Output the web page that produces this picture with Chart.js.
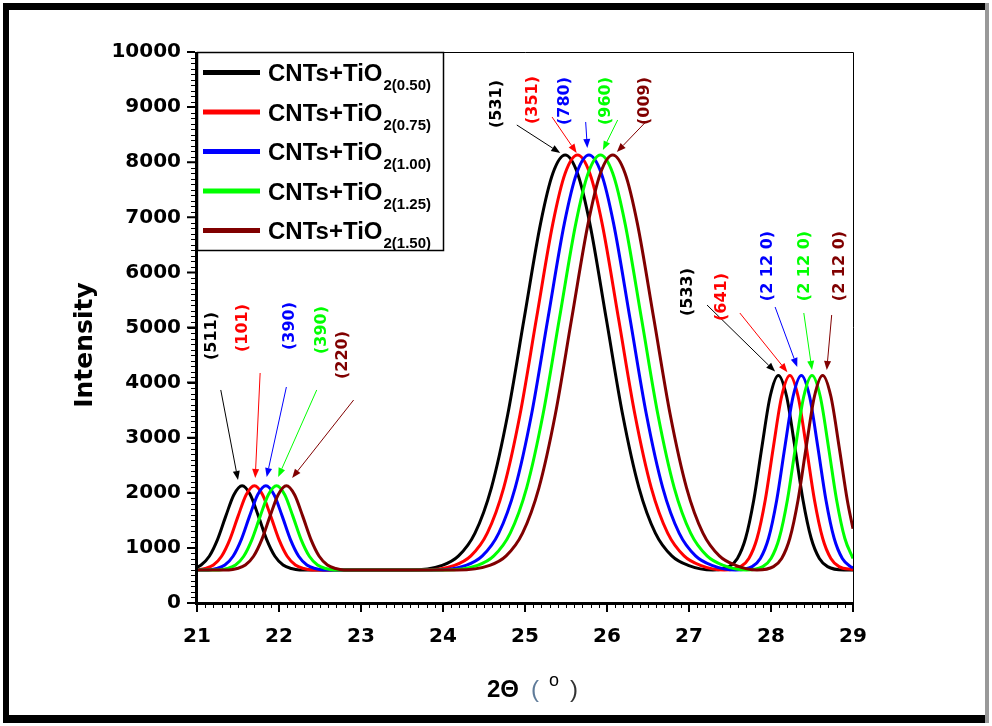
<!DOCTYPE html>
<html>
<head>
<meta charset="utf-8">
<script src="https://cdn.jsdelivr.net/npm/chart.js@4.4.1/dist/chart.umd.min.js"></script>
<style>
  html, body { margin: 0; padding: 0; background: #fff; }
  canvas { display: block; }
</style>
</head>
<body>
<canvas id="xrd" width="992" height="726"></canvas>
<script>
// XRD patterns of CNTs+TiO2 for five TiO2 loadings
var loadings = ['0.50', '0.75', '1.00', '1.25', '1.50'];
var colors = ['#000000', '#ff0000', '#0000ff', '#00ff00', '#800000'];

var xTicks = [21, 22, 23, 24, 25, 26, 27, 28, 29];
var yTicks = [0, 1000, 2000, 3000, 4000, 5000, 6000, 7000, 8000, 9000, 10000];

var angle050 = [21.00, 21.05, 21.15, 21.25, 21.35, 21.45, 21.55, 21.65, 21.75, 21.85, 21.95, 22.05, 22.15, 22.25,
  23.59, 23.99, 24.19, 24.39, 24.59, 24.79, 24.99, 25.19, 25.34, 25.49, 25.64, 25.79, 25.99, 26.19, 26.39, 26.59, 26.79, 26.99,
  27.29, 27.49, 27.59, 27.69, 27.79, 27.89, 27.99, 28.09, 28.19, 28.29, 28.39, 28.49, 28.59, 28.69, 28.89, 29.00];
var count050 = [650, 690, 849, 1151, 1572, 1966, 2130, 1966, 1572, 1151, 849, 690, 626, 600,
  600, 684, 856, 1269, 2091, 3426, 5167, 6890, 7799, 8130, 7799, 6890, 5167, 3426, 2091, 1269, 856, 684,
  600, 660, 808, 1175, 1871, 2842, 3752, 4130, 3752, 2842, 1871, 1175, 808, 660, 600, 600];

var angle075 = [21.00, 21.10, 21.20, 21.30, 21.40, 21.50, 21.60, 21.70, 21.80, 21.90, 22.00, 22.10, 22.20, 22.30, 22.40,
  23.74, 24.14, 24.34, 24.54, 24.74, 24.94, 25.14, 25.34, 25.49, 25.64, 25.79, 25.94, 26.14, 26.34, 26.54, 26.74, 26.94, 27.14,
  27.43, 27.63, 27.73, 27.83, 27.93, 28.03, 28.13, 28.23, 28.33, 28.43, 28.53, 28.63, 28.73, 28.83, 29.00];
var count075 = [600, 626, 690, 849, 1151, 1572, 1966, 2130, 1966, 1572, 1151, 849, 690, 626, 600,
  600, 684, 856, 1269, 2091, 3426, 5167, 6890, 7799, 8130, 7799, 6890, 5167, 3426, 2091, 1269, 856, 684,
  600, 660, 808, 1175, 1871, 2842, 3752, 4130, 3752, 2842, 1871, 1175, 808, 660, 604];

var angle100 = [21.00, 21.14, 21.24, 21.34, 21.44, 21.54, 21.64, 21.74, 21.84, 21.94, 22.04, 22.14, 22.24, 22.34, 22.44, 22.54,
  23.88, 24.28, 24.48, 24.68, 24.88, 25.08, 25.28, 25.48, 25.63, 25.78, 25.93, 26.08, 26.28, 26.48, 26.68, 26.88, 27.08, 27.28,
  27.57, 27.77, 27.87, 27.97, 28.07, 28.17, 28.27, 28.37, 28.47, 28.57, 28.67, 28.77, 28.87, 28.97, 29.00];
var count100 = [600, 600, 626, 690, 849, 1151, 1572, 1966, 2130, 1966, 1572, 1151, 849, 690, 626, 600,
  600, 684, 856, 1269, 2091, 3426, 5167, 6890, 7799, 8130, 7799, 6890, 5167, 3426, 2091, 1269, 856, 684,
  600, 660, 808, 1175, 1871, 2842, 3752, 4130, 3752, 2842, 1871, 1175, 808, 660, 639];

var angle125 = [21.00, 21.27, 21.37, 21.47, 21.57, 21.67, 21.77, 21.87, 21.97, 22.07, 22.17, 22.27, 22.37, 22.47, 22.57, 22.67,
  24.02, 24.42, 24.62, 24.82, 25.02, 25.22, 25.42, 25.62, 25.77, 25.92, 26.07, 26.22, 26.42, 26.62, 26.82, 27.02, 27.22, 27.42,
  27.70, 27.90, 28.00, 28.10, 28.20, 28.30, 28.40, 28.50, 28.60, 28.70, 28.80, 28.90, 29.00];
var count125 = [600, 600, 626, 690, 849, 1151, 1572, 1966, 2130, 1966, 1572, 1151, 849, 690, 626, 600,
  600, 684, 856, 1269, 2091, 3426, 5167, 6890, 7799, 8130, 7799, 6890, 5167, 3426, 2091, 1269, 856, 684,
  600, 660, 808, 1175, 1871, 2842, 3752, 4130, 3752, 2842, 1871, 1175, 808];

var angle150 = [21.00, 21.39, 21.49, 21.59, 21.69, 21.79, 21.89, 21.99, 22.09, 22.19, 22.29, 22.39, 22.49, 22.59, 22.69, 22.79,
  24.17, 24.57, 24.77, 24.97, 25.17, 25.37, 25.57, 25.77, 25.92, 26.07, 26.22, 26.37, 26.57, 26.77, 26.97, 27.17, 27.37, 27.57,
  27.83, 28.03, 28.13, 28.23, 28.33, 28.43, 28.53, 28.63, 28.73, 28.83, 28.93, 29.00];
var count150 = [600, 600, 626, 690, 849, 1151, 1572, 1966, 2130, 1966, 1572, 1151, 849, 690, 626, 600,
  600, 684, 856, 1269, 2091, 3426, 5167, 6890, 7799, 8130, 7799, 6890, 5167, 3426, 2091, 1269, 856, 684,
  600, 660, 808, 1175, 1871, 2842, 3752, 4130, 3752, 2842, 1871, 1348];

var angles = [angle050, angle075, angle100, angle125, angle150];
var counts = [count050, count075, count100, count125, count150];

// Miller indices for each peak group, one per sample
var hklLabels = [
  ['(511)', '(101)', '(390)', '(390)', '(220)'],
  ['(531)', '(351)', '(780)', '(960)', '(009)'],
  ['(533)', '(641)', '(2 12 0)', '(2 12 0)', '(2 12 0)']
];

// arrow tail, arrow tip and label centre, in axis units
var arrowLayout = [
  [[[21.29, 3866], [21.50, 2232], [21.18, 4846]],
   [[21.77, 4174], [21.71, 2269], [21.56, 4991]],
   [[22.09, 3920], [21.85, 2287], [22.13, 5027]],
   [[22.46, 3866], [21.99, 2287], [22.52, 4955]],
   [[22.91, 3684], [22.16, 2269], [22.78, 4501]]],
  [[[24.90, 8675], [25.43, 8167], [24.66, 9056]],
   [[25.33, 8820], [25.63, 8167], [25.10, 9129]],
   [[25.74, 8730], [25.76, 8258], [25.49, 9111]],
   [[26.13, 8766], [25.95, 8221], [25.98, 9111]],
   [[26.46, 8711], [26.12, 8185], [26.46, 9111]]],
  [[[27.22, 5408], [28.05, 4200], [26.99, 5644]],
   [[27.62, 5263], [28.20, 4190], [27.40, 5554]],
   [[28.05, 5372], [28.32, 4283], [27.96, 6116]],
   [[28.40, 5263], [28.50, 4229], [28.41, 6116]],
   [[28.74, 5227], [28.68, 4229], [28.84, 6116]]]
];

var datasets = loadings.map(function(name, i) {
  return {
    label: 'CNTs+TiO2(' + name + ')',
    data: angles[i].map(function(a, j) { return { x: a, y: counts[i][j] }; }),
    borderColor: colors[i],
    backgroundColor: colors[i],
    borderWidth: 3,
    pointRadius: 0,
    fill: false,
    cubicInterpolationMode: 'monotone',
    order: loadings.length - i
  };
});

function drawArrow(ctx, x1, y1, x2, y2, color) {
  var ang = Math.atan2(y2 - y1, x2 - x1);
  var head = 9, half = 3.5;
  var bx = x2 - head * Math.cos(ang), by = y2 - head * Math.sin(ang);
  ctx.strokeStyle = color;
  ctx.lineWidth = 1;
  ctx.beginPath();
  ctx.moveTo(x1, y1);
  ctx.lineTo(bx, by);
  ctx.stroke();
  ctx.fillStyle = color;
  ctx.beginPath();
  ctx.moveTo(x2, y2);
  ctx.lineTo(bx + half * Math.sin(ang), by - half * Math.cos(ang));
  ctx.lineTo(bx - half * Math.sin(ang), by + half * Math.cos(ang));
  ctx.closePath();
  ctx.fill();
}

var decorations = {
  id: 'decorations',
  afterDraw: function(chart) {
    var ctx = chart.ctx;
    var xs = chart.scales.x, ys = chart.scales.y;
    var a = chart.chartArea;
    var k, v, p;
    ctx.save();

    // frame: thin top/right, heavy left/bottom axes
    ctx.strokeStyle = '#000';
    ctx.lineWidth = 1;
    ctx.beginPath();
    ctx.moveTo(a.left, a.top + 0.5);
    ctx.lineTo(a.right + 0.5, a.top + 0.5);
    ctx.lineTo(a.right + 0.5, a.bottom);
    ctx.stroke();
    ctx.fillStyle = '#000';
    ctx.fillRect(a.left - 2, a.top, 3, a.bottom - a.top + 2);
    ctx.fillRect(a.left - 2, a.bottom - 1, a.right - a.left + 3, 3);

    // minor and major ticks on the axes
    ctx.lineWidth = 1;
    ctx.beginPath();
    for (k = 0; k <= 80; k++) {
      v = xTicks[0] + k / 10;
      p = Math.round(xs.getPixelForValue(v)) + 0.5;
      ctx.moveTo(p, a.bottom + 1);
      ctx.lineTo(p, a.bottom + (k % 10 === 0 ? 8 : 5));
    }
    for (k = 0; k <= 100; k++) {
      v = k * 100;
      p = Math.round(ys.getPixelForValue(v)) + 0.5;
      ctx.moveTo(a.left - 2, p);
      ctx.lineTo(a.left - (k % 10 === 0 ? 9 : 6), p);
    }
    ctx.stroke();
    ctx.lineWidth = 2;
    ctx.beginPath();
    xTicks.forEach(function(t) {
      var px = xs.getPixelForValue(t);
      ctx.moveTo(px, a.bottom + 1);
      ctx.lineTo(px, a.bottom + 9);
    });
    yTicks.forEach(function(t) {
      var py = ys.getPixelForValue(t);
      ctx.moveTo(a.left - 2, py);
      ctx.lineTo(a.left - 10, py);
    });
    ctx.stroke();

    // peak labels with arrows
    hklLabels.forEach(function(group, g) {
      group.forEach(function(text, i) {
        var lay = arrowLayout[g][i];
        drawArrow(ctx,
          xs.getPixelForValue(lay[0][0]), ys.getPixelForValue(lay[0][1]),
          xs.getPixelForValue(lay[1][0]), ys.getPixelForValue(lay[1][1]), colors[i]);
        ctx.save();
        ctx.translate(xs.getPixelForValue(lay[2][0]), ys.getPixelForValue(lay[2][1]));
        ctx.rotate(-Math.PI / 2);
        ctx.fillStyle = colors[i];
        ctx.font = 'bold 16px "DejaVu Sans", sans-serif';
        ctx.textAlign = 'center';
        ctx.textBaseline = 'middle';
        ctx.fillText(text, 0, 0);
        ctx.restore();
      });
    });

    // legend box
    var lx = a.left, ly = a.top, lw = 246, lh = 198;
    ctx.fillStyle = '#fff';
    ctx.fillRect(lx, ly, lw, lh);
    ctx.strokeStyle = '#000';
    ctx.lineWidth = 1.5;
    ctx.strokeRect(lx + 0.5, ly + 0.5, lw, lh);
    loadings.forEach(function(name, i) {
      var cy = ly + 20 + i * 39.5;
      ctx.fillStyle = colors[i];
      ctx.fillRect(lx + 6, cy - 2, 57, 5);
      ctx.fillStyle = '#000';
      ctx.textAlign = 'left';
      ctx.textBaseline = 'alphabetic';
      ctx.font = 'bold 24px "Liberation Sans", Arial, sans-serif';
      ctx.fillText('CNTs+TiO', lx + 71, cy + 9);
      var w = ctx.measureText('CNTs+TiO').width;
      ctx.font = 'bold 15px "Liberation Sans", Arial, sans-serif';
      ctx.fillText('2(' + name + ')', lx + 71 + w + 1, cy + 18);
    });

    // axis titles
    ctx.save();
    ctx.translate(85, 345);
    ctx.rotate(-Math.PI / 2);
    ctx.fillStyle = '#000';
    ctx.font = 'bold 25px "DejaVu Sans", sans-serif';
    ctx.textAlign = 'center';
    ctx.textBaseline = 'middle';
    ctx.fillText('Intensity', 0, 0);
    ctx.restore();

    ctx.textAlign = 'left';
    ctx.textBaseline = 'alphabetic';
    ctx.fillStyle = '#000';
    ctx.font = 'bold 24px "Liberation Sans", Arial, sans-serif';
    ctx.fillText('2\u0398', 487, 697);
    ctx.font = '24px "Liberation Sans", Arial, sans-serif';
    ctx.fillStyle = '#5f7b99';
    ctx.fillText('(', 531, 697);
    ctx.fillStyle = '#000';
    ctx.font = '18px "Liberation Sans", Arial, sans-serif';
    ctx.fillText('o', 549, 686);
    ctx.fillStyle = '#333';
    ctx.font = '24px "Liberation Sans", Arial, sans-serif';
    ctx.fillText(')', 570, 697);

    // outer border of the figure
    ctx.fillStyle = '#000';
    ctx.fillRect(3, 3, 983, 7);
    ctx.fillRect(3, 3, 6, 720);
    ctx.fillRect(3, 715, 983, 8);
    ctx.fillStyle = '#999';
    ctx.fillRect(985, 3, 4, 720);

    ctx.restore();
  }
};

var tickFont = { family: '"DejaVu Sans", sans-serif', weight: 'bold', size: 20 };
function plainLabel(value) { return String(value); }

new Chart(document.getElementById('xrd').getContext('2d'), {
  type: 'line',
  data: { datasets: datasets },
  options: {
    responsive: false,
    animation: false,
    events: [],
    layout: { padding: { left: 0, right: 139, top: 52, bottom: 0 } },
    plugins: { legend: { display: false }, tooltip: { enabled: false } },
    scales: {
      x: {
        type: 'linear',
        min: xTicks[0],
        max: xTicks[xTicks.length - 1],
        afterBuildTicks: function(scale) {
          scale.ticks = xTicks.map(function(t) { return { value: t }; });
        },
        afterFit: function(scale) { scale.height = 123; },
        grid: { display: false, drawTicks: false },
        border: { display: false },
        ticks: { font: tickFont, color: '#000', padding: 22, maxRotation: 0, autoSkip: false, callback: plainLabel }
      },
      y: {
        type: 'linear',
        min: yTicks[0],
        max: yTicks[yTicks.length - 1],
        afterBuildTicks: function(scale) {
          scale.ticks = yTicks.map(function(t) { return { value: t }; });
        },
        afterFit: function(scale) { scale.width = 197; },
        grid: { display: false, drawTicks: false },
        border: { display: false },
        ticks: { font: tickFont, color: '#000', padding: 16, autoSkip: false, callback: plainLabel }
      }
    }
  },
  plugins: [decorations]
});
</script>
</body>
</html>
